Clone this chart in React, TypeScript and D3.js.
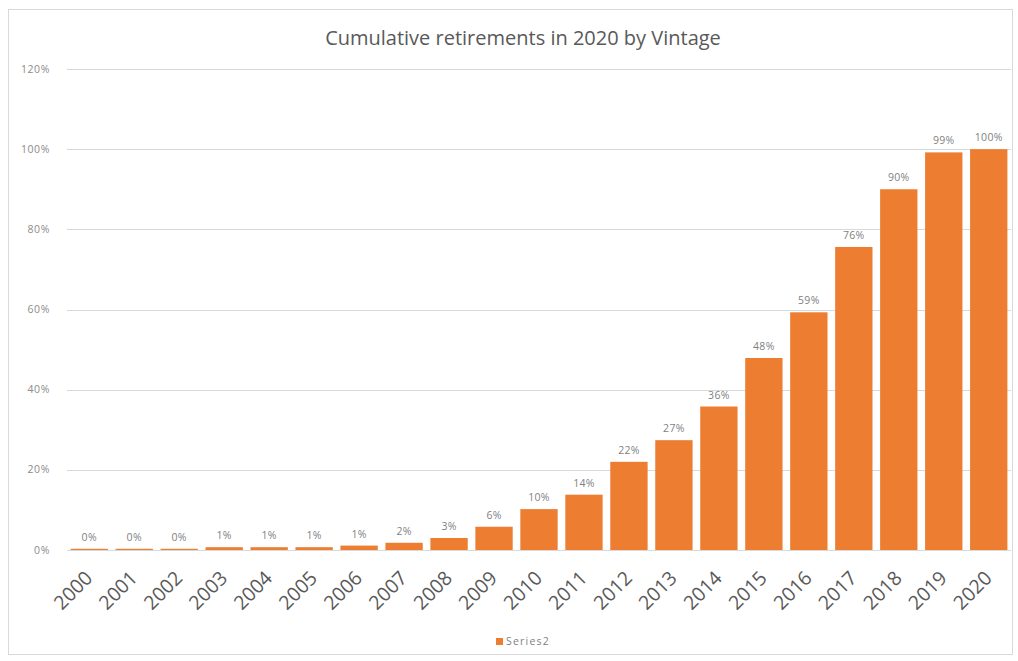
import React from "react";
import * as d3 from "d3";

const years = ["2000","2001","2002","2003","2004","2005","2006","2007","2008","2009","2010","2011","2012","2013","2014","2015","2016","2017","2018","2019","2020"];
const values = [0.3,0.3,0.3,0.7,0.7,0.7,1.1,1.8,3.0,5.8,10.2,13.8,22.0,27.4,35.8,47.9,59.3,75.6,90.0,99.2,100];
const yTicks = [0,20,40,60,80,100,120];
const title = "Cumulative retirements in 2020 by Vintage";
const seriesName = "Series2";

const W = 1018, H = 661;
const M = { left: 67, right: 1011, top: 69, bottom: 550 };
const ORANGE = "#ED7D31";
const FONT = "Open Sans, Liberation Sans, sans-serif";

export default function App() {
  const x = d3.scaleBand<string>().domain(years).range([M.left, M.right]).paddingInner(0.17).paddingOuter(0.08);
  const y = d3.scaleLinear().domain([0, 120]).range([M.bottom, M.top]);
  const pct = d3.format(".0%");
  return (
    <svg width={W} height={H} style={{ position: "absolute", left: 0, top: 0, background: "#fff" }}>
      <rect x={8.5} y={9.5} width={1004} height={645} fill="#fff" stroke="#d9d9d9" />
      <text x={523} y={45} textAnchor="middle" fontFamily={FONT} fontSize={20} fill="#595959">{title}</text>
      {yTicks.map(t => (
        <g key={t}>
          <line x1={M.left} x2={M.right} y1={Math.round(y(t)) + 0.5} y2={Math.round(y(t)) + 0.5} stroke="#d9d9d9" />
          <text x={50} y={y(t) + 3.5} textAnchor="end" fontFamily={FONT} fontSize={10.5} letterSpacing={0.6} fill="#8c8c8c">{pct(t / 100)}</text>
        </g>
      ))}
      {values.map((v, i) => (
        <rect key={years[i]} x={x(years[i])} y={y(v)} width={x.bandwidth()} height={y(0) - y(v)} fill={ORANGE} />
      ))}
      {values.map((v, i) => (
        <text key={"l" + years[i]} x={(x(years[i]) as number) + x.bandwidth() / 2} y={y(v) - 8} textAnchor="middle" fontFamily={FONT} fontSize={10.5} letterSpacing={0.3} fill="#7f7f7f">{pct(v / 100)}</text>
      ))}
      {years.map(yr => {
        const cx = (x(yr) as number) + x.bandwidth() / 2 - 6;
        const cy = 569;
        return (
          <g key={"x" + yr} transform={`translate(${cx},${cy}) rotate(-45)`}>
            <text x={0} y={0} dy="0.75em" textAnchor="end" fontFamily={FONT} fontSize={19.5} fill="#595959">{yr}</text>
          </g>
        );
      })}
      <rect x={496} y={638} width={7} height={7} fill={ORANGE} />
      <text x={506} y={645} fontFamily={FONT} fontSize={10.5} letterSpacing={1.2} fill="#7f7f7f">{seriesName}</text>
    </svg>
  );
}
